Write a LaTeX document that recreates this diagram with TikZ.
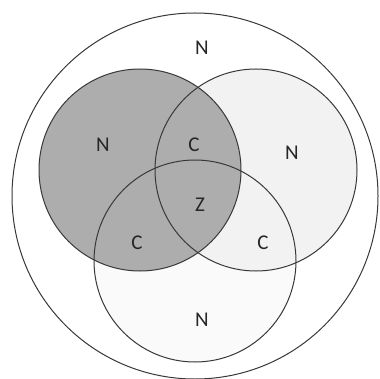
\documentclass[tikz,border=0pt]{standalone}
\usepackage{fontspec}
\setmainfont{Carlito}
\begin{document}
\begin{tikzpicture}[x=1pt,y=-1pt,
  ring/.style={draw=black!78,line width=1pt},
  lbl/.style={font=\fontsize{21}{23}\selectfont,text=black!85,inner sep=0pt}]
\useasboundingbox (0,0) rectangle (379,379);
\fill[white] (0,0) rectangle (379,379);
% fills
\fill[black!2] (195,261) circle[radius=101pt];
\fill[black!5] (256,170) circle[radius=101pt];
\fill[black!32] (140,170) circle[radius=101pt];
% outlines
\draw[ring] (195,196) circle[radius=183pt];
\draw[ring] (140,170) circle[radius=101pt];
\draw[ring] (256,170) circle[radius=101pt];
\draw[ring] (195,261) circle[radius=101pt];
% labels
\node[lbl] (nTop) at (202,48) {N};
\node[lbl] (nLeft) at (103,145) {N};
\node[lbl] (cTop) at (194,145) {C};
\node[lbl] (nRight) at (292,153) {N};
\node[lbl] (z) at (200,205) {Z};
\node[lbl] (cLeft) at (137,243) {C};
\node[lbl] (cRight) at (263,243) {C};
\node[lbl] (nBottom) at (202,320) {N};
\end{tikzpicture}
\end{document}
